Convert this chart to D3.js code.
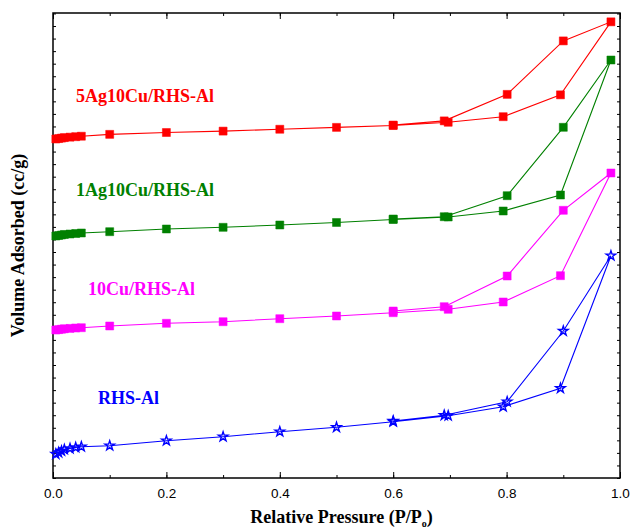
<!DOCTYPE html>
<html>
<head>
<meta charset="utf-8">
<script src="https://cdn.jsdelivr.net/npm/d3@7"></script>
<style>
  body { margin: 0; background: #fff; }
  svg { display: block; }
</style>
</head>
<body>
<script>
// relative pressure points (adsorption branch, then desorption branch)
var pAds = [0.005, 0.01, 0.015, 0.02, 0.03, 0.04, 0.05, 0.1, 0.2, 0.3, 0.4, 0.5, 0.6, 0.697, 0.794, 0.895, 0.984];
var pDes = [0.9, 0.801, 0.69, 0.6];

// volume adsorbed, arbitrary units (curves stacked with offsets)
var rhsAds   = [5.16, 5.48, 5.81, 6.13, 6.34, 6.56, 6.73, 6.95, 8.02, 8.88, 9.96, 10.9, 12.11, 13.4, 15.33, 19.29, 47.81];
var rhsDes   = [31.61, 16.41, 13.48, 12.26];
var cuAds    = [31.83, 31.91, 32.0, 32.09, 32.17, 32.26, 32.32, 32.69, 33.27, 33.61, 34.26, 34.84, 35.55, 36.28, 37.85, 43.51, 65.59];
var cuDes    = [57.57, 43.44, 36.84, 35.91];
var ag1Ads   = [52.04, 52.15, 52.26, 52.37, 52.47, 52.58, 52.69, 52.97, 53.55, 53.91, 54.41, 54.95, 55.59, 56.13, 57.42, 60.86, 89.89];
var ag1Des   = [75.42, 60.71, 56.19, 55.7];
var ag5Ads   = [72.9, 73.0, 73.1, 73.2, 73.3, 73.4, 73.5, 73.9, 74.3, 74.6, 75.0, 75.4, 75.8, 76.5, 77.7, 82.4, 98.1];
var ag5Des   = [94.0, 82.5, 76.8, 75.9];

var names  = ["5Ag10Cu/RHS-Al", "1Ag10Cu/RHS-Al", "10Cu/RHS-Al", "RHS-Al"];
var xTicks = [0, 0.2, 0.4, 0.6, 0.8, 1.0];

var series = [
  {name: names[0], ads: ag5Ads, des: ag5Des, color: "#ff0000", sym: "square", lx: 76, ly: 102},
  {name: names[1], ads: ag1Ads, des: ag1Des, color: "#008000", sym: "square", lx: 76, ly: 196},
  {name: names[2], ads: cuAds,  des: cuDes,  color: "#ff00ff", sym: "square", lx: 88, ly: 295},
  {name: names[3], ads: rhsAds, des: rhsDes, color: "#0000ff", sym: "star",   lx: 98, ly: 404}
];

var W = 630, H = 530;
var mLeft = 53, mRight = 620, mTop = 13, mBottom = 478;

var svg = d3.select("body").append("svg")
            .attr("width", W)
            .attr("height", H);

var x = d3.scaleLinear().domain([0, 1]).range([mLeft, mRight]);
var y = d3.scaleLinear().domain([0, 100]).range([mBottom, mTop]);

// frame
svg.append("rect")
   .attr("x", mLeft).attr("y", mTop)
   .attr("width", mRight - mLeft).attr("height", mBottom - mTop)
   .attr("fill", "none")
   .attr("stroke", "#000")
   .attr("stroke-width", 1.5);

// x axis bottom: major ticks with labels, minor ticks
var minorX = d3.range(0, 1.001, 0.1);
svg.append("g")
   .attr("transform", "translate(0," + mBottom + ")")
   .call(d3.axisBottom(x).tickValues(minorX).tickSize(-3).tickFormat(""))
   .call(function(g) { g.select(".domain").remove(); });
var xAxis = svg.append("g")
   .attr("transform", "translate(0," + mBottom + ")")
   .call(d3.axisBottom(x).tickValues(xTicks).tickSize(-6).tickPadding(10).tickFormat(d3.format(".1f")));
xAxis.select(".domain").remove();
xAxis.selectAll("text")
     .attr("font-family", "Liberation Sans, Arial, sans-serif")
     .attr("font-size", 13.5)
     .attr("fill", "#000");

// x axis top (ticks only)
svg.append("g")
   .attr("transform", "translate(0," + mTop + ")")
   .call(d3.axisTop(x).tickValues(minorX).tickSize(-3).tickFormat(""))
   .call(function(g) { g.select(".domain").remove(); });
svg.append("g")
   .attr("transform", "translate(0," + mTop + ")")
   .call(d3.axisTop(x).tickValues(xTicks).tickSize(-6).tickFormat(""))
   .call(function(g) { g.select(".domain").remove(); });

// y axes: unlabelled inward ticks on both sides
var yMinor = d3.range(0, 100.01, 2.7);
svg.append("g")
   .attr("transform", "translate(" + mLeft + ",0)")
   .call(d3.axisLeft(y).tickValues(yMinor).tickSize(-3).tickFormat(""))
   .call(function(g) { g.select(".domain").remove(); });
svg.append("g")
   .attr("transform", "translate(" + mRight + ",0)")
   .call(d3.axisRight(y).tickValues(yMinor).tickSize(-3).tickFormat(""))
   .call(function(g) { g.select(".domain").remove(); });

svg.selectAll(".tick line").attr("stroke", "#000");

// curves
var line = d3.line()
             .x(function(d) { return x(d.p); })
             .y(function(d) { return y(d.v); });

var square = d3.symbol().type(d3.symbolSquare).size(64);
var star = d3.symbol().type(d3.symbolStar).size(28);

series.forEach(function(s, k) {
  var pts = pAds.map(function(p, i) { return {p: p, v: s.ads[i]}; });
  var des = pDes.map(function(p, i) { return {p: p, v: s.des[i]}; });
  var all = pts.concat(des);

  svg.append("path")
     .datum(all)
     .attr("d", line)
     .attr("fill", "none")
     .attr("stroke", s.color)
     .attr("stroke-width", 1.1);

  svg.selectAll("path.mk" + k)
     .data(all)
     .enter()
     .append("path")
     .attr("class", "mk" + k)
     .attr("transform", function(d) { return "translate(" + x(d.p) + "," + y(d.v) + ")"; })
     .attr("d", s.sym === "star" ? star : square)
     .attr("fill", s.sym === "star" ? "none" : s.color)
     .attr("stroke", s.color)
     .attr("stroke-width", s.sym === "star" ? 1.4 : 0.5);

  svg.append("text")
     .attr("x", s.lx)
     .attr("y", s.ly)
     .attr("font-family", "Liberation Serif, Times New Roman, serif")
     .attr("font-weight", "bold")
     .attr("font-size", 18)
     .attr("fill", s.color)
     .text(s.name);
});

// axis titles
var t = svg.append("text")
   .attr("x", (mLeft + mRight) / 2 + 5)
   .attr("y", 523)
   .attr("text-anchor", "middle")
   .attr("font-family", "Liberation Serif, Times New Roman, serif")
   .attr("font-weight", "bold")
   .attr("font-size", 18)
   .attr("fill", "#000");
t.append("tspan").text("Relative Pressure (P/P");
t.append("tspan").attr("font-size", 10).attr("dy", 4).text("o");
t.append("tspan").attr("dy", -4).text(")");

svg.append("text")
   .attr("transform", "translate(24," + ((mTop + mBottom) / 2) + ") rotate(-90)")
   .attr("text-anchor", "middle")
   .attr("font-family", "Liberation Serif, Times New Roman, serif")
   .attr("font-weight", "bold")
   .attr("font-size", 18)
   .attr("fill", "#000")
   .text("Volume Adsorbed (cc/g)");
</script>
</body>
</html>
